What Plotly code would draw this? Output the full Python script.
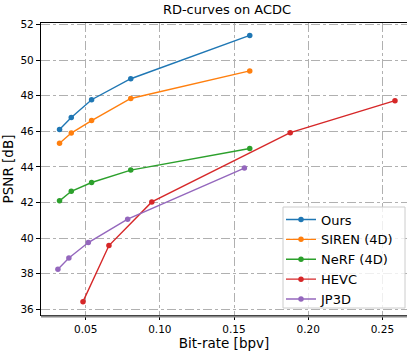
import plotly.graph_objects as go

series_names = ["Ours", "SIREN (4D)", "NeRF (4D)", "HEVC", "JP3D"]
colors = ["#1f77b4", "#ff7f0e", "#2ca02c", "#d62728", "#9467bd"]

ours_x = [0.0324, 0.0403, 0.0540, 0.0804, 0.1606]
ours_y = [46.10, 46.77, 47.77, 48.95, 51.38]
siren_x = [0.0324, 0.0403, 0.0540, 0.0804, 0.1606]
siren_y = [45.33, 45.90, 46.60, 47.84, 49.39]
nerf_x = [0.0324, 0.0403, 0.0540, 0.0804, 0.1606]
nerf_y = [42.09, 42.63, 43.12, 43.82, 45.03]
hevc_x = [0.0482, 0.0657, 0.0946, 0.1879, 0.2585]
hevc_y = [36.43, 39.58, 42.03, 45.92, 47.72]
jp3d_x = [0.0313, 0.0387, 0.0518, 0.0783, 0.1570]
jp3d_y = [38.25, 38.88, 39.75, 41.06, 43.93]

xs = [ours_x, siren_x, nerf_x, hevc_x, jp3d_x]
ys = [ours_y, siren_y, nerf_y, hevc_y, jp3d_y]

x_ticks = [0.05, 0.10, 0.15, 0.20, 0.25]
x_tick_labels = ["0.05", "0.10", "0.15", "0.20", "0.25"]
y_ticks = [36, 38, 40, 42, 44, 46, 48, 50, 52]

font = "DejaVu Sans"
L, T, B, W, H = 41, 23, 37, 407, 352
PW, PH = W - L, H - T - B


def px(xp):
    return (xp - L) / PW


def py(yp):
    return (H - B - yp) / PH


fig = go.Figure()
for name, c, x, y in zip(series_names, colors, xs, ys):
    fig.add_trace(go.Scatter(x=x, y=y, name=name, mode="lines+markers",
                             line=dict(color=c, width=1.4),
                             marker=dict(color=c, size=5.5)))

fig.update_layout(
    width=W, height=H,
    margin=dict(l=L, r=0, t=T, b=B),
    paper_bgcolor="white", plot_bgcolor="white",
    font=dict(family=font, color="black", size=10.5),
    title=dict(text="RD-curves on ACDC", x=227 / W, xanchor="center",
               y=1 - 9 / H, yanchor="middle", yref="container",
               font=dict(size=13, family=font, color="black")),
    showlegend=True,
    legend=dict(x=px(281), y=py(204.5), xanchor="left", yanchor="top",
                bgcolor="rgba(0,0,0,0)", borderwidth=0,
                font=dict(size=13, family=font, color="black"),
                itemwidth=30, tracegroupgap=0),
)
fig.update_xaxes(range=[0.0199, 0.2666], tickvals=x_ticks, ticktext=x_tick_labels,
                 showgrid=True, gridcolor="#b0b0b0", griddash="dashdot", gridwidth=1,
                 showline=True, linecolor="black", linewidth=1.2, mirror=True,
                 ticks="outside", ticklen=4, tickcolor="black", zeroline=False,
                 title=dict(text="Bit-rate [bpv]", font=dict(size=13.5, family=font), standoff=4))
fig.update_yaxes(range=[35.68, 52.08], tickvals=y_ticks,
                 showgrid=True, gridcolor="#b0b0b0", griddash="dashdot", gridwidth=1,
                 showline=True, linecolor="black", linewidth=1.2,
                 ticks="outside", ticklen=4, tickcolor="black", zeroline=False,
                 title=dict(text="PSNR [dB]", font=dict(size=13.5, family=font), standoff=6))
fig.add_shape(type="line", xref="paper", yref="paper", x0=0, x1=1,
              ysizemode="pixel", yanchor=0, y0=-1.5, y1=-1.5,
              line=dict(color="#888888", width=2))
# legend frame
fig.add_shape(type="rect", xref="paper", yref="paper", layer="above",
              x0=px(283), x1=px(405), y0=py(308), y1=py(207),
              fillcolor="rgba(255,255,255,0.8)", line=dict(color="#cccccc", width=1))

fig.write_html("out.html", config={"displayModeBar": False},
               post_script="document.body.style.margin='0';document.body.style.overflow='hidden';")
